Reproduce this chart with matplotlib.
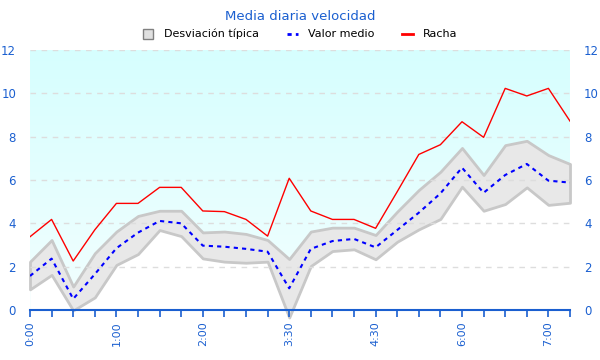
import numpy as np
import matplotlib.pyplot as plt
from matplotlib.lines import Line2D
from matplotlib.colors import LinearSegmentedColormap

# 26 samples, a label on every 4th
tick_labels = ["0:00", "1:00", "2:00", "3:30", "4:30", "6:00", "7:00"]

racha = [3.38, 4.18, 2.26, 3.7, 4.92, 4.92, 5.66, 5.66, 4.57, 4.54, 4.18, 3.41, 6.08,
         4.57, 4.18, 4.18, 3.77, 5.46, 7.18, 7.63, 8.69, 7.97, 10.23, 9.88, 10.23, 8.72]
media = [1.57, 2.37, 0.51, 1.65, 2.85, 3.57, 4.11, 4.0, 2.97, 2.92, 2.82, 2.69, 1.0,
         2.82, 3.18, 3.28, 2.89, 3.69, 4.49, 5.38, 6.57, 5.41, 6.23, 6.74, 5.97, 5.88]
desv_sup = [2.23, 3.23, 1.08, 2.62, 3.62, 4.34, 4.58, 4.58, 3.58, 3.62, 3.51, 3.23, 2.35,
            3.62, 3.8, 3.8, 3.46, 4.54, 5.54, 6.38, 7.48, 6.23, 7.61, 7.81, 7.15, 6.74]
desv_inf = [0.95, 1.62, -0.02, 0.58, 2.08, 2.58, 3.69, 3.41, 2.38, 2.23, 2.18, 2.23, -0.35,
            2.03, 2.72, 2.8, 2.34, 3.15, 3.72, 4.2, 5.69, 4.58, 4.89, 5.66, 4.85, 4.95]

blue = "#1a5fd0"
x = np.arange(len(media))

fig = plt.figure(figsize=(6, 3.6), dpi=100)
ax = fig.add_axes([0.05, 0.139, 0.90, 0.722])
ax.set_xlim(0, len(x) - 1)
ax.set_ylim(0, 12)

# cyan gradient background, white below the band
grad = np.linspace(0, 1, 100).reshape(-1, 1)
ax.imshow(grad, extent=(0, len(x) - 1, 0, 12), aspect="auto", origin="upper",
          cmap=LinearSegmentedColormap.from_list("c", ["#d6fefe", "#f2ffff"]), zorder=0)
ax.fill_between(x, -1, desv_inf, color="white", zorder=1, lw=0)

ax.fill_between(x, desv_inf, desv_sup, facecolor="#e8e8e8", edgecolor="#c8c8c8",
                lw=2, zorder=2, clip_on=False)
ax.plot(x, media, color="blue", ls=(0, (2, 2)), lw=1.5, zorder=4)
ax.plot(x, racha, color="red", lw=1, zorder=4)

ax.set_yticks(range(0, 13, 2))
ax.grid(axis="y", color="#dddddd", ls=(0, (4, 4)), lw=1, zorder=3)
ax.set_axisbelow(False)
for sp in ["left", "right", "top"]:
    ax.spines[sp].set_visible(False)
ax.spines["bottom"].set_color(blue)
ax.spines["bottom"].set_linewidth(1.5)
ax.spines["bottom"].set_zorder(5)

ax.set_xticks(x)
ax.set_xticklabels([tick_labels[i // 4] if i % 4 == 0 else "" for i in x],
                   rotation=90, color=blue, fontsize=8)
ax.tick_params(axis="x", colors=blue, length=5, width=1.2, pad=3)
ax.tick_params(axis="y", length=0, labelcolor=blue, labelsize=8.5,
               left=True, right=True, labelleft=True, labelright=True, pad=10)

fig.text(0.5, 0.955, "Media diaria velocidad", ha="center", va="center",
         color=blue, fontsize=9.5)
handles = [
    Line2D([], [], ls="none", marker="s", markersize=7, markerfacecolor="#e0e0e0",
           markeredgecolor="#808080", markeredgewidth=1),
    Line2D([], [], color="blue", ls=(0, (1.5, 1.5)), lw=2),
    Line2D([], [], color="red", lw=2),
]
fig.legend(handles, ["Desviación típica", "Valor medio", "Racha"],
           loc="center", bbox_to_anchor=(0.5, 0.905), ncol=3, frameon=False,
           fontsize=8, handlelength=1.0, columnspacing=2.5, handletextpad=0.9)

fig.savefig("out.png", dpi=100)
